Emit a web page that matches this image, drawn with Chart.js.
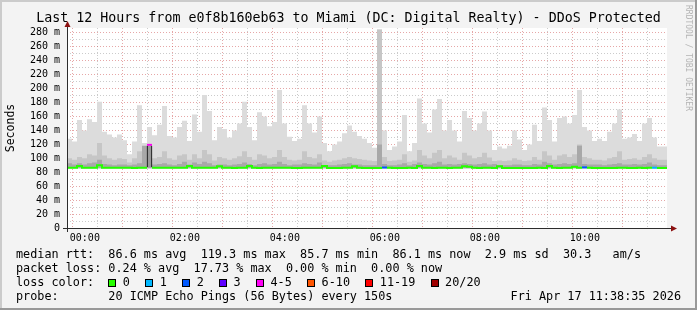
<!DOCTYPE html>
<html>
<head>
<meta charset="utf-8">
<script src="https://cdn.jsdelivr.net/npm/chart.js@4/dist/chart.umd.min.js"></script>
<style>
  html, body { margin: 0; padding: 0; background: #f3f3f3; }
  #wrap { position: relative; width: 697px; height: 310px; overflow: hidden; }
  #c { position: absolute; left: 0; top: 0; }
  .row {
    position: absolute; left: 16px; height: 14px; line-height: 14px;
    font-family: "DejaVu Sans Mono", monospace; font-size: 11.8px;
    white-space: pre; color: #000;
  }
  .box {
    display: inline-block; box-sizing: border-box; width: 8px; height: 8px;
    border: 1px solid #000; margin-right: 6.5px; vertical-align: -0.5px;
  }
  .lbl { margin-right: 15.3px; }
</style>
</head>
<body>
<div id="wrap">
  <canvas id="c" width="697" height="310"></canvas>
  <div class="row" style="top:247px">median rtt:  86.6 ms avg  119.3 ms max  85.7 ms min  86.1 ms now  2.9 ms sd  30.3   am/s</div>
  <div class="row" style="top:261px">packet loss: 0.24 % avg  17.73 % max  0.00 % min  0.00 % now</div>
  <div class="row" id="lossRow" style="top:275px">loss color:  </div>
  <div class="row" style="top:289px">probe:       20 ICMP Echo Pings (56 Bytes) every 150s</div>
  <div class="row" style="top:289px;left:auto;right:16px">Fri Apr 17 11:38:35 2026</div>
</div>
<script>
// time axis in hours relative to 00:00, window starts 23:38:35
const T0 = -0.357;
const STEP = 0.1;          // one bin = 6 minutes
const T1 = T0 + 12;

const TITLE = 'Last 12 Hours from e0f8b160eb63 to Miami (DC: Digital Realty) - DDoS Protected';
const xLabels = ['00:00', '02:00', '04:00', '06:00', '08:00', '10:00'];

// top of the smoke (slowest ping per bin), ms
const smokeMax = [
  147, 128, 124, 155, 140, 156, 152, 181, 138, 134,
  130, 134, 126, 106, 124, 176, 122, 145, 133, 148,
  175, 132, 130, 145, 154, 125, 163, 138, 191, 168,
  126, 145, 142, 130, 140, 150, 181, 145, 126, 166,
  160, 146, 152, 198, 150, 131, 125, 128, 176, 150,
  137, 160, 122, 110, 120, 124, 136, 147, 138, 132,
  128, 122, 115, 285, 140, 112, 117, 124, 162, 110,
  122, 186, 150, 137, 170, 185, 140, 155, 140, 124,
  168, 158, 140, 150, 167, 140, 112, 117, 114, 118,
  140, 127, 112, 120, 148, 125, 173, 155, 124, 158,
  160, 150, 162, 198, 145, 140, 125, 128, 125, 138,
  150, 170, 128, 130, 135, 125, 150, 158, 130, 117
];

// denser middle part of the smoke
const smokeMid = [
  104, 100, 98, 102, 100, 106, 104, 122, 104, 100,
  98, 100, 99, 94, 100, 110, 110, 104, 100, 102,
  110, 100, 98, 104, 106, 98, 106, 100, 112, 106,
  97, 102, 100, 98, 100, 103, 110, 102, 98, 106,
  104, 100, 102, 112, 102, 98, 97, 98, 110, 102,
  100, 106, 97, 95, 97, 98, 100, 102, 100, 99,
  98, 97, 96, 285, 102, 96, 97, 98, 106, 95,
  97, 112, 104, 100, 108, 112, 100, 104, 101, 98,
  108, 104, 100, 102, 108, 101, 96, 97, 96, 97,
  100, 98, 96, 97, 102, 98, 110, 104, 98, 104,
  106, 102, 106, 120, 102, 100, 98, 98, 97, 100,
  102, 110, 98, 99, 100, 98, 102, 106, 100, 98
];

// darkest smoke right above the median
const smokeDark = [
  92, 93, 91, 93, 91, 93, 94, 98, 92, 91,
  90, 91, 91, 90, 91, 93, 118, 92, 91, 92,
  93, 91, 90, 92, 95, 91, 94, 92, 95, 93,
  90, 91, 91, 90, 91, 92, 94, 92, 90, 92,
  93, 91, 92, 95, 92, 90, 91, 91, 93, 92,
  91, 94, 90, 90, 90, 91, 92, 93, 91, 91,
  90, 90, 90, 120, 92, 90, 90, 91, 93, 90,
  92, 94, 92, 91, 93, 95, 91, 92, 91, 92,
  93, 92, 91, 92, 93, 91, 92, 90, 90, 90,
  91, 91, 90, 90, 92, 91, 95, 93, 91, 92,
  93, 92, 93, 118, 92, 91, 91, 91, 90, 91,
  92, 93, 91, 91, 92, 91, 92, 94, 91, 90
];

const median = [
  86.4, 86.5, 89.0, 86.4, 86.3, 86.5, 90.0, 86.6, 86.4, 86.3,
  86.3, 86.4, 86.3, 86.2, 86.3, 86.4, 119.3, 86.4, 86.3, 86.3,
  86.4, 86.3, 86.3, 86.4, 89.0, 86.3, 86.4, 86.3, 86.5, 86.4,
  88.5, 86.3, 86.3, 86.2, 86.3, 86.4, 89.0, 86.3, 86.2, 86.3,
  86.4, 86.3, 86.3, 86.5, 86.3, 86.2, 86.2, 86.3, 86.4, 86.3,
  86.3, 89.0, 86.2, 86.2, 86.2, 86.3, 86.3, 88.5, 86.3, 86.2,
  86.2, 86.2, 86.2, 86.8, 86.3, 86.2, 86.2, 86.2, 86.4, 86.2,
  89.0, 86.4, 86.3, 86.2, 86.3, 86.4, 86.2, 86.3, 86.3, 88.5,
  88.0, 86.3, 86.2, 86.3, 86.4, 86.2, 88.5, 86.2, 86.1, 86.1,
  86.2, 86.2, 86.1, 86.1, 86.3, 86.2, 89.0, 86.3, 86.2, 86.3,
  86.3, 88.0, 86.3, 87.0, 86.3, 86.2, 86.2, 86.2, 86.1, 86.2,
  86.3, 86.4, 86.2, 86.2, 86.3, 86.2, 86.3, 86.5, 86.1, 86.1
];

// lost pings (of 20) per bin
const lossCount = [
  0, 0, 0, 0, 0, 0, 0, 0, 0, 0,
  0, 0, 0, 0, 0, 0, 4, 0, 0, 0,
  0, 0, 0, 0, 0, 0, 0, 0, 0, 0,
  0, 0, 0, 0, 0, 0, 0, 0, 0, 0,
  0, 0, 0, 0, 0, 0, 0, 0, 0, 0,
  0, 0, 0, 0, 0, 0, 0, 0, 0, 0,
  0, 0, 0, 2, 0, 0, 0, 0, 0, 0,
  0, 0, 0, 0, 0, 0, 0, 0, 0, 0,
  0, 0, 0, 0, 0, 0, 0, 0, 0, 0,
  0, 0, 0, 0, 0, 0, 0, 0, 0, 0,
  0, 0, 0, 2, 0, 0, 0, 0, 0, 0,
  0, 0, 0, 0, 0, 0, 0, 1, 0, 0
];

const smokeMin = 85.7;

// bins where all pings sat in a tight block (black outlined column)
const denseBin = [16];
const denseLow = [87.5];
const denseHigh = [118];

const lossLabels = ['0', '1', '2', '3', '4-5', '6-10', '11-19', '20/20'];
const lossColors = ['#26ff00', '#00b8ff', '#0059ff', '#5e00ff', '#ff00f5', '#ff5500', '#ff0000', '#a00000'];

function lossLevel(n) {
  if (n <= 3) return n;
  if (n <= 5) return 4;
  if (n <= 10) return 5;
  if (n <= 19) return 6;
  return 7;
}

// loss colour legend row
const lossRow = document.getElementById('lossRow');
lossLabels.forEach((l, i) => {
  const b = document.createElement('span');
  b.className = 'box';
  b.style.background = lossColors[i];
  lossRow.appendChild(b);
  const t = document.createElement('span');
  t.className = 'lbl';
  t.textContent = l;
  lossRow.appendChild(t);
});

// stepped series: one point per bin start plus a closing point
const steps = arr => arr.map((v, i) => ({ x: T0 + i * STEP, y: v }))
  .concat([{ x: T0 + arr.length * STEP, y: arr[arr.length - 1] }]);

// median as start/end pairs so each flat piece and each riser is its own segment
const medianPts = [];
median.forEach((v, i) => {
  medianPts.push({ x: T0 + i * STEP, y: v });
  medianPts.push({ x: T0 + (i + 1) * STEP, y: v });
});
const binColor = i => lossColors[lossLevel(lossCount[i] || 0)];
const medianSegColor = c => {
  const k = c.p0DataIndex;
  if (k % 2 === 0) return binColor(k / 2);
  const a = binColor((k - 1) / 2), b = binColor((k + 1) / 2);
  return a === b ? a : 'rgba(0,0,0,0)';
};

const MONO = '"DejaVu Sans Mono", monospace';
const GRID = 'rgba(140,140,140,0.45)';
const MGRID = 'rgba(200,60,60,0.45)';

const frame = {
  id: 'frame',
  beforeDraw(chart) {
    const { ctx, chartArea: a } = chart;
    ctx.save();
    ctx.fillStyle = '#ffffff';
    ctx.fillRect(a.left, a.top, a.right - a.left, a.bottom - a.top);
    ctx.restore();
  },
  afterDraw(chart) {
    const { ctx, chartArea: a } = chart;
    ctx.save();
    // title
    ctx.fillStyle = '#000';
    ctx.font = '13.3px ' + MONO;
    ctx.textAlign = 'center';
    ctx.textBaseline = 'middle';
    ctx.fillText(TITLE, 348.5, 19);
    // axes
    ctx.strokeStyle = '#2c2c2c';
    ctx.lineWidth = 1;
    ctx.beginPath();
    ctx.moveTo(a.left + 0.5, a.bottom + 4);
    ctx.lineTo(a.left + 0.5, a.top - 4);
    ctx.moveTo(a.left - 4, a.bottom + 0.5);
    ctx.lineTo(a.right + 5, a.bottom + 0.5);
    ctx.stroke();
    // arrows
    ctx.fillStyle = '#8b1010';
    ctx.beginPath();
    ctx.moveTo(a.left + 0.5, a.top - 7);
    ctx.lineTo(a.left - 2.5, a.top - 1);
    ctx.lineTo(a.left + 3.5, a.top - 1);
    ctx.fill();
    ctx.beginPath();
    ctx.moveTo(a.right + 10, a.bottom + 0.5);
    ctx.lineTo(a.right + 4, a.bottom - 2.5);
    ctx.lineTo(a.right + 4, a.bottom + 3.5);
    ctx.fill();
    // watermark
    ctx.translate(685, 5);
    ctx.rotate(Math.PI / 2);
    ctx.fillStyle = '#b4b4b4';
    ctx.font = '8px ' + MONO;
    ctx.textAlign = 'left';
    ctx.textBaseline = 'middle';
    ctx.fillText('RRDTOOL / TOBI OETIKER', 0, -3);
    ctx.restore();
    // outer frame
    ctx.save();
    ctx.fillStyle = '#cbcbcb';
    ctx.fillRect(0, 0, 697, 2);
    ctx.fillRect(0, 0, 2, 310);
    ctx.fillStyle = '#999999';
    ctx.fillRect(0, 308, 697, 2);
    ctx.fillRect(695, 0, 2, 310);
    ctx.restore();
  }
};

const smokeLayer = (data, color, order) => ({
  type: 'line',
  data: steps(data),
  stepped: 'after',
  borderWidth: 0,
  pointRadius: 0,
  backgroundColor: color,
  fill: { value: smokeMin },
  order: order
});

const gridColor = (c, major) => (c.tick ? (major(c.tick.value) ? MGRID : GRID) : GRID);

new Chart(document.getElementById('c'), {
  type: 'line',
  data: {
    datasets: [
      smokeLayer(smokeMax, '#dcdcdc', 5),
      smokeLayer(smokeMid, '#c6c6c6', 4),
      smokeLayer(smokeDark, '#a8a8a8', 3),
      {
        type: 'bar',
        data: denseBin.map((b, i) => ({ x: T0 + (b + 0.5) * STEP, y: [denseLow[i], denseHigh[i]] })),
        backgroundColor: '#9a9a9a',
        borderColor: '#000000',
        borderWidth: { left: 1, right: 1, top: 0, bottom: 0 },
        borderSkipped: false,
        barThickness: 5,
        order: 0
      },
      {
        type: 'line',
        data: medianPts,
        borderWidth: 2,
        pointRadius: 0,
        fill: false,
        borderColor: lossColors[0],
        borderCapStyle: 'butt',
        segment: { borderColor: medianSegColor },
        order: 1
      }
    ]
  },
  options: {
    responsive: false,
    animation: false,
    devicePixelRatio: 1,
    layout: { padding: { left: 0, right: 30, top: 28, bottom: 62 } },
    plugins: {
      legend: { display: false },
      tooltip: { enabled: false },
      title: { display: false }
    },
    scales: {
      x: {
        type: 'linear',
        min: T0,
        max: T1,
        offset: false,
        z: 1,
        afterFit: s => { s.height = 20; },
        afterBuildTicks: s => {
          const t = [];
          for (let h = 0; h < T1; h += 0.5) t.push({ value: h });
          s.ticks = t;
        },
        ticks: {
          autoSkip: false,
          maxRotation: 0,
          padding: 4,
          color: '#000',
          font: { family: MONO, size: 10 },
          callback: v => (v % 2 === 0 ? xLabels[v / 2] : '')
        },
        grid: {
          drawTicks: false,
          color: c => gridColor(c, v => Number.isInteger(v))
        },
        border: { display: false, color: GRID, dash: [1, 2] }
      },
      y: {
        min: 0,
        max: 287,
        z: 1,
        afterFit: s => { s.width = 67; },
        ticks: {
          stepSize: 10,
          includeBounds: false,
          autoSkip: false,
          padding: 7,
          color: '#000',
          font: { family: MONO, size: 10 },
          callback: v => (v % 20 !== 0 ? '' : (v === 0 ? '0' : v + ' m'))
        },
        grid: {
          drawTicks: false,
          color: c => gridColor(c, v => v % 20 === 0)
        },
        border: { display: false, color: GRID, dash: [1, 2] },
        title: {
          display: true,
          text: 'Seconds',
          color: '#000',
          font: { family: MONO, size: 11.5 },
          padding: { top: 4, bottom: 0 }
        }
      }
    }
  },
  plugins: [frame]
});
</script>
</body>
</html>
